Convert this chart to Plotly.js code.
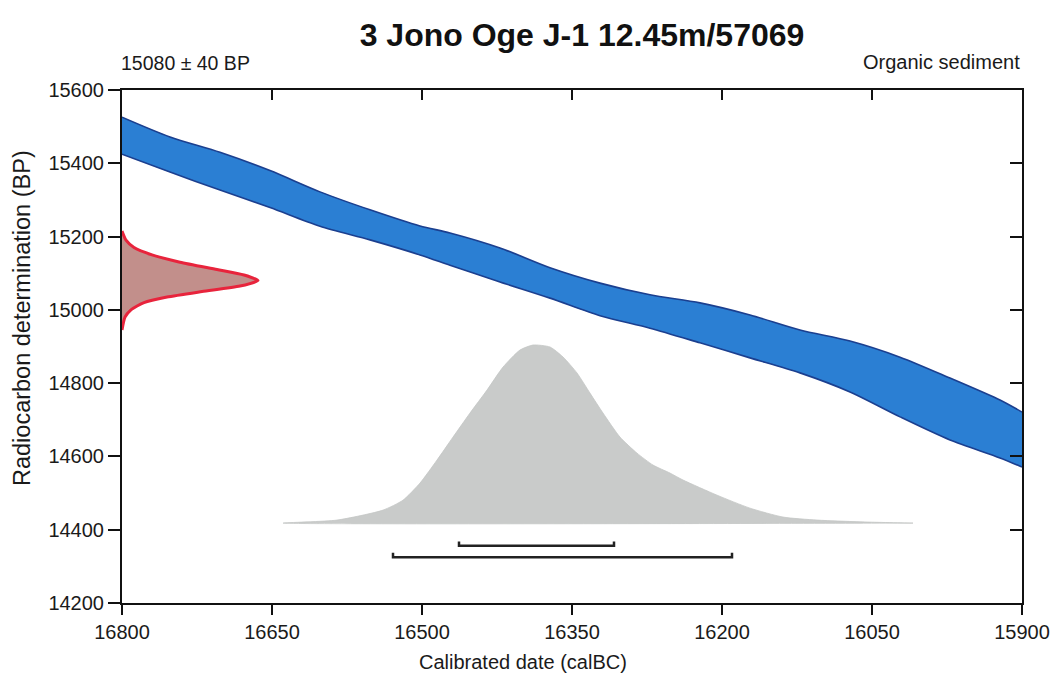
<!DOCTYPE html>
<html>
<head>
<meta charset="utf-8">
<script src="https://cdn.plot.ly/plotly-3.0.1.min.js"></script>
<style>
  html, body { margin: 0; padding: 0; background: #fff; }
  #chart { width: 1054px; height: 673px; }
</style>
</head>
<body>
<div id="chart"></div>
<script>
// ---- Data ----
// Calibration curve band (calBC vs BP)
const curveX     = [16800, 16752, 16702, 16652, 16602, 16552, 16502, 16472, 16422, 16372, 16322, 16272, 16222, 16172, 16122, 16072, 16022, 15972, 15922, 15900];
const curveUpper = [15526, 15472, 15430, 15380, 15322, 15273, 15229, 15210, 15169, 15115, 15073, 15041, 15019, 14986, 14945, 14915, 14871, 14814, 14754, 14721];
const curveLower = [15425, 15376, 15327, 15279, 15228, 15191, 15150, 15122, 15076, 15032, 14984, 14950, 14910, 14869, 14828, 14776, 14708, 14645, 14596, 14571];

// Radiocarbon measurement distribution (BP vs relative width, in years of x-axis)
const measBP    = [15215, 15190, 15170, 15150, 15130, 15110, 15095, 15080, 15065, 15050, 15035, 15020, 15000, 14980, 14945];
const measWidth = [0, 4, 12, 30, 58, 95, 122, 136, 118, 80, 45, 22, 9, 3, 0];

// Calibrated probability distribution (calBC vs relative probability, % of max)
const calX    = [16639, 16585, 16539, 16519, 16502, 16485, 16469, 16452, 16435, 16419, 16402, 16389, 16372, 16359, 16345, 16332, 16319, 16302, 16285, 16269, 16252, 16239, 16205, 16172, 16139, 16105, 16055, 16009];
const calProb = [0, 1.7, 7.3, 12.9, 22.5, 35.4, 48.3, 61.8, 74.7, 87.6, 97.2, 100, 98.9, 93.3, 84.3, 73, 61.8, 48.3, 39.3, 32.6, 28.1, 24.2, 15.7, 8.4, 3.4, 1.7, 0.6, 0];

// Highest posterior density ranges (calBC)
const range68 = [16463, 16308];
const range95 = [16529, 16190];

// Axis settings
const xRange = [16800, 15900];
const yRange = [14200, 15600];
const xTicks = [16800, 16650, 16500, 16350, 16200, 16050, 15900];
const yTicks = [14200, 14400, 14600, 14800, 15000, 15200, 15400, 15600];

// ---- Layout helpers (visual placement, not data) ----
const calBase = 14418;     // baseline of calibrated distribution (BP)
const calHeight = 486;     // BP height of max probability
const bar68Y = 14356, bar95Y = 14325, barTick = 12;

const FONT = '"Liberation Sans", Arial, Helvetica, sans-serif';
const TXT = '#1a1a1a';

const traces = [];

// Calibration band
traces.push({
  x: curveX, y: curveUpper, mode: 'lines', type: 'scatter',
  line: {color: '#1b3f8f', width: 1.6, shape: 'spline', smoothing: 0.8}, hoverinfo: 'skip', showlegend: false
});
traces.push({
  x: curveX, y: curveLower, mode: 'lines', type: 'scatter', fill: 'tonexty',
  fillcolor: '#2b7fd3', line: {color: '#1b3f8f', width: 1.6, shape: 'spline', smoothing: 0.8}, hoverinfo: 'skip', showlegend: false
});

// Calibrated distribution (closed polygon)
const calPolyX = calX.concat([calX[calX.length - 1], calX[0]]);
const calPolyY = calProb.map(p => calBase + p / 100 * calHeight).concat([calBase, calBase]);
traces.push({
  x: calPolyX, y: calPolyY, mode: 'lines', type: 'scatter', fill: 'toself',
  fillcolor: '#c9cbca', line: {color: '#c4c6c5', width: 0.8, shape: 'spline', smoothing: 0.6}, hoverinfo: 'skip', showlegend: false
});

// Measurement distribution on the y-axis
traces.push({
  x: measWidth.map(w => xRange[0] - w), y: measBP, mode: 'lines', type: 'scatter', fill: 'toself',
  fillcolor: '#c28f8b', line: {color: '#e8243c', width: 3, shape: 'spline', smoothing: 0.6},
  hoverinfo: 'skip', showlegend: false, cliponaxis: false
});

// Range bars
function bar(r, y) {
  return {
    x: [r[0], r[0], r[1], r[1]], y: [y + barTick, y, y, y + barTick],
    mode: 'lines', type: 'scatter', line: {color: '#222', width: 2.5},
    hoverinfo: 'skip', showlegend: false
  };
}
traces.push(bar(range68, bar68Y));
traces.push(bar(range95, bar95Y));

const tickFont = {family: FONT, size: 20, color: TXT};

const layout = {
  width: 1054, height: 673,
  margin: {l: 122, r: 32, t: 90, b: 70},
  paper_bgcolor: '#fff', plot_bgcolor: '#fff',
  showlegend: false,
  title: {
    text: '<b>3 Jono Oge J-1 12.45m/57069</b>',
    font: {family: FONT, size: 32, color: '#111'},
    x: 582 / 1054, xanchor: 'center', y: 1 - 35 / 673, yanchor: 'middle'
  },
  xaxis: {
    range: xRange, tickvals: xTicks, ticktext: xTicks.map(String),
    ticks: 'outside', ticklen: 10, tickwidth: 2, tickcolor: '#111',
    showline: true, linecolor: '#111', linewidth: 2,
    showgrid: false, zeroline: false, tickfont: tickFont
  },
  xaxis2: {
    range: xRange, tickvals: xTicks, overlaying: 'x', side: 'top', anchor: 'y',
    ticks: 'inside', ticklen: 10, tickwidth: 2, tickcolor: '#111',
    showline: true, linecolor: '#111', linewidth: 2,
    showticklabels: false, showgrid: false, zeroline: false
  },
  yaxis: {
    range: yRange, tickvals: yTicks, ticktext: yTicks.map(String),
    ticks: 'outside', ticklen: 12, tickwidth: 2, tickcolor: '#111',
    showline: true, linecolor: '#111', linewidth: 2,
    showgrid: false, zeroline: false, tickfont: tickFont
  },
  yaxis2: {
    range: yRange, tickvals: yTicks, overlaying: 'y', side: 'right', anchor: 'x',
    ticks: 'inside', ticklen: 12, tickwidth: 2, tickcolor: '#111',
    showline: true, linecolor: '#111', linewidth: 2,
    showticklabels: false, showgrid: false, zeroline: false
  },
  annotations: [
    {text: '15080 ± 40 BP', xref: 'paper', yref: 'paper', x: 0, y: 1, xanchor: 'left', yanchor: 'middle',
     yshift: 27, xshift: -3, showarrow: false, font: {family: FONT, size: 19.5, color: TXT}},
    {text: 'Organic sediment', xref: 'paper', yref: 'paper', x: 1, y: 1, xanchor: 'right', yanchor: 'middle',
     yshift: 28, showarrow: false, font: {family: FONT, size: 20, color: TXT}},
    {text: 'Calibrated date (calBC)', xref: 'paper', yref: 'paper', x: (523 - 122) / 900, y: 0,
     xanchor: 'center', yanchor: 'middle', yshift: -59, showarrow: false,
     font: {family: FONT, size: 20, color: TXT}},
    {text: 'Radiocarbon determination (BP)', xref: 'paper', yref: 'paper', x: 0, y: (603 - 318) / 513,
     xanchor: 'center', yanchor: 'middle', xshift: -100, textangle: -90, showarrow: false,
     font: {family: FONT, size: 23.5, color: TXT}}
  ]
};

// invisible points to activate overlay axes
traces.push({x: [xRange[0]], y: [yRange[0]], xaxis: 'x2', yaxis: 'y', mode: 'markers', marker: {opacity: 0}, hoverinfo: 'skip', showlegend: false});
traces.push({x: [xRange[0]], y: [yRange[0]], xaxis: 'x', yaxis: 'y2', mode: 'markers', marker: {opacity: 0}, hoverinfo: 'skip', showlegend: false});

Plotly.newPlot('chart', traces, layout, {staticPlot: true, displayModeBar: false});
</script>
</body>
</html>
